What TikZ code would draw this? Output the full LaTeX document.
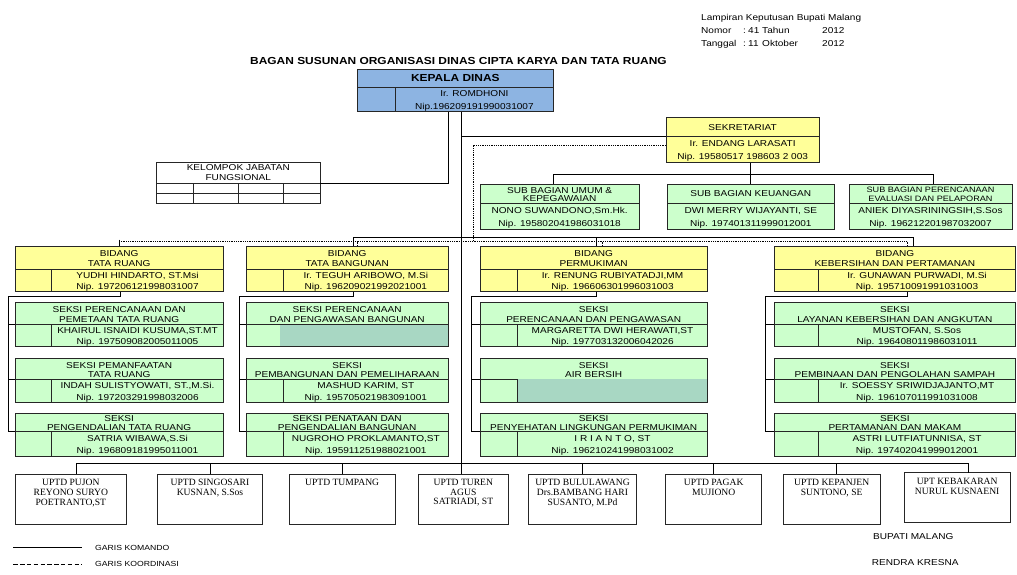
\documentclass[tikz,border=0pt]{standalone}
\usepackage{fontspec}
\setmainfont{Liberation Sans}[FakeStretch=1.17]
\newfontfamily\serifu{Liberation Serif}
\definecolor{kblue}{HTML}{8DB4E2}
\definecolor{byel}{HTML}{FFFF99}
\definecolor{sgreen}{HTML}{CCFFCC}
\definecolor{steal}{HTML}{A8D7C3}
\tikzset{
 obox/.style={draw=black!85, line width=0.7pt, inner sep=0, outer sep=0, anchor=north west},
 ol/.style={draw=black!85, line width=0.7pt},
 txt/.style={inner sep=0, text height=6.1pt, text depth=0pt, font=\fontsize{8.6}{10}\selectfont},
 txts/.style={inner sep=0, text height=5.6pt, text depth=0pt, font=\fontsize{7.8}{9}\selectfont},
 ttl/.style={inner sep=0, text height=7.2pt, text depth=0pt, font=\fontsize{10.2}{12}\selectfont\bfseries},
 cmd/.style={draw=black, line width=0.8pt},
 koor/.style={draw=black, line width=0.7pt, dash pattern=on 0.9pt off 0.9pt},
 utxt/.style={inner sep=0, align=center, anchor=north, font=\fontsize{9.6}{9.6}\selectfont\serifu},
 leg/.style={inner sep=0, text height=5.3pt, text depth=0pt, anchor=west, font=\fontsize{7.4}{9}\selectfont},
 hdr/.style={inner sep=0, text height=6.1pt, text depth=0pt, anchor=west, font=\fontsize{8.6}{10}\selectfont},
}
% name, left, top, right, divider, bottom, inner x (or empty), fill
\newcommand\ubox[8]{%
  \node[obox, fill=#8, minimum width={(#4)-(#2)}, minimum height={(#6)-(#3)}] (#1) at (#2,#3) {};
  \draw[ol] (#2,#5) -- (#4,#5);
  \ifx\relax#7\relax\else\draw[ol] (#7,#5) -- (#7,#6);\fi
  \coordinate (#1-dw) at (#2,#5);
  \pgfmathsetmacro\ya{#3+0.32*(#5-#3)}%
  \pgfmathsetmacro\yb{#3+0.76*(#5-#3)}%
  \pgfmathsetmacro\ym{(#3+#5)/2}%
  \pgfmathsetmacro\yc{#5+0.27*(#6-#5)}%
  \pgfmathsetmacro\yd{#5+0.77*(#6-#5)}%
  \pgfmathsetmacro\xa{(#2+#4)/2}%
  \ifx\relax#7\relax\pgfmathsetmacro\xb{(#2+#4)/2}\else\pgfmathsetmacro\xb{(#7+#4)/2}\fi
}
\newcommand\ttwo[3]{\node[txt] (#1-a) at (\xa,\ya) {#2}; \node[txt] (#1-b) at (\xa,\yb) {#3};}
\newcommand\tone[2]{\node[txt] (#1-a) at (\xa,\ym) {#2};}
\newcommand\ltwo[3]{\node[txt] (#1-c) at (\xb,\yc) {#2}; \node[txt] (#1-d) at (\xb,\yd) {#3};}
\newcommand\uptd[6]{%
  \node[obox, fill=white, minimum width={(#4)-(#2)}, minimum height={(#5)-(#3)}] (#1) at (#2,#3) {};
  \node[utxt] (#1-t) at ({(#2+#4)/2},{#3+5.3}) {#6};}
\begin{document}
\begin{tikzpicture}[x=1pt,y=-1pt]
\fill[white] (0,0) rectangle (1017,574);
\useasboundingbox (0,0) rectangle (1017,574);

% ---------- header ----------
\node[hdr] (h1) at (701,17) {Lampiran Keputusan Bupati Malang};
\node[hdr] (h2) at (701,30) {Nomor};
\node[hdr] (h3a) at (743,30) {:};
\node[hdr] (h3) at (748,30) {41};
\node[hdr] (h4) at (762,30) {Tahun};
\node[hdr] (h5) at (822,30) {2012};
\node[hdr] (h6) at (701,43) {Tanggal};
\node[hdr] (h7a) at (743,43) {:};
\node[hdr] (h7) at (748,43) {11};
\node[hdr] (h8) at (762,43) {Oktober};
\node[hdr] (h9) at (822,43) {2012};
\node[ttl, anchor=west] (title) at (250,61) {BAGAN SUSUNAN ORGANISASI DINAS CIPTA KARYA DAN TATA RUANG};

% ---------- coordinates ----------
\coordinate (kt) at (461,111.7);
\coordinate (ub) at (461,463.3);
\coordinate (bs2) at (353,237);
\coordinate (bs3) at (596,237);
\coordinate (bs4) at (913,237);
\coordinate (bd1) at (119,241.5);
\coordinate (bd2) at (357,241.5);
\coordinate (bd3) at (602,241.5);
\coordinate (bd4) at (907,241.5);
\coordinate (dk) at (473,145);
\coordinate (sbj) at (750,174.2);
\coordinate (sbl) at (553.7,174.2);
\coordinate (sbr) at (933,174.2);
\coordinate (ul) at (76.7,463.3);
\coordinate (ur) at (968.3,463.3);

% ---------- boxes ----------
\ubox{kepala}{357.7}{69}{553}{87.3}{111.7}{395.7}{kblue}
\node[ttl] (kepala-a) at (\xa,\ym) {KEPALA DINAS};
\ltwo{kepala}{Ir. ROMDHONI}{Nip.196209191990031007}

\node[obox, fill=white, minimum width=163.3, minimum height=40.6] (kjf) at (156.7,162.7) {};
\draw[ol] (156.7,183.3) -- (320,183.3);
\draw[ol] (156.7,193.3) -- (320,193.3);
\foreach \x in {193.3,238.3,283.3} \draw[ol] (\x,183.3) -- (\x,203.3);
\node[txt] (kjf-a) at (238.3,167.6) {KELOMPOK JABATAN};
\node[txt] (kjf-b) at (238.3,177.6) {FUNGSIONAL};

\ubox{sekr}{666}{117.7}{819.3}{136.7}{162.7}{}{byel}
\tone{sekr}{SEKRETARIAT}
\ltwo{sekr}{Ir. ENDANG LARASATI}{Nip. 19580517 198603 2 003}

\ubox{sb1}{480}{184}{639.3}{203}{229}{}{sgreen}
\ttwo{sb1}{SUB BAGIAN UMUM \&}{KEPEGAWAIAN}
\ltwo{sb1}{NONO SUWANDONO,Sm.Hk.}{Nip. 195802041986031018}
\ubox{sb2}{667}{184}{834.6}{203}{229}{}{sgreen}
\tone{sb2}{SUB BAGIAN KEUANGAN}
\ltwo{sb2}{DWI MERRY WIJAYANTI, SE}{Nip. 197401311999012001}
\ubox{sb3}{849}{184}{1012}{203}{229}{}{sgreen}
\node[txts] (sb3-a) at (\xa,\ya) {SUB BAGIAN PERENCANAAN};
\node[txts] (sb3-b) at (\xa,\yb) {EVALUASI DAN PELAPORAN};
\ltwo{sb3}{ANIEK DIYASRININGSIH,S.Sos}{Nip. 196212201987032007}

% bidang
\ubox{bid1}{15}{246}{223.3}{269.3}{291.7}{51.7}{byel}
\ttwo{bid1}{BIDANG}{TATA RUANG}
\ltwo{bid1}{YUDHI HINDARTO, ST.Msi}{Nip. 197206121998031007}
\ubox{bid2}{246}{246}{448.3}{269.3}{291.7}{283.3}{byel}
\ttwo{bid2}{BIDANG}{TATA BANGUNAN}
\ltwo{bid2}{Ir. TEGUH ARIBOWO, M.Si}{Nip. 196209021992021001}
\ubox{bid3}{480}{246}{707.3}{269.3}{291.7}{517.7}{byel}
\ttwo{bid3}{BIDANG}{PERMUKIMAN}
\ltwo{bid3}{Ir. RENUNG RUBIYATADJI,MM}{Nip. 196606301996031003}
\ubox{bid4}{774}{246}{1015.7}{269.3}{291.7}{818.3}{byel}
\ttwo{bid4}{BIDANG}{KEBERSIHAN DAN PERTAMANAN}
\ltwo{bid4}{Ir. GUNAWAN PURWADI, M.Si}{Nip. 195710091991031003}

% seksi column 1
\ubox{s11}{15}{302.7}{223.3}{324.3}{346.7}{51.7}{sgreen}
\ttwo{s11}{SEKSI PERENCANAAN DAN}{PEMETAAN TATA RUANG}
\ltwo{s11}{KHAIRUL ISNAIDI KUSUMA,ST.MT}{Nip. 197509082005011005}
\ubox{s12}{15}{358.3}{223.3}{379.3}{402.3}{51.7}{sgreen}
\ttwo{s12}{SEKSI PEMANFAATAN}{TATA RUANG}
\ltwo{s12}{INDAH SULISTYOWATI, ST.,M.Si.}{Nip. 197203291998032006}
\ubox{s13}{15}{413}{223.3}{431.5}{456.5}{51.7}{sgreen}
\ttwo{s13}{SEKSI}{PENGENDALIAN TATA RUANG}
\ltwo{s13}{SATRIA WIBAWA,S.Si}{Nip. 196809181995011001}

% seksi column 2
\ubox{s21}{246}{302.7}{448.3}{324.3}{346.7}{}{sgreen}
\fill[steal] (280.4,324.7) rectangle (447.9,346.3);
\ttwo{s21}{SEKSI PERENCANAAN}{DAN PENGAWASAN BANGUNAN}
\ubox{s22}{246}{358.3}{448.3}{379.3}{402.3}{283.3}{sgreen}
\ttwo{s22}{SEKSI}{PEMBANGUNAN DAN PEMELIHARAAN}
\ltwo{s22}{MASHUD KARIM, ST}{Nip. 195705021983091001}
\ubox{s23}{246}{413}{448.3}{431.5}{456.5}{283.3}{sgreen}
\ttwo{s23}{SEKSI PENATAAN DAN}{PENGENDALIAN BANGUNAN}
\ltwo{s23}{NUGROHO PROKLAMANTO,ST}{Nip. 195911251988021001}

% seksi column 3
\ubox{s31}{480}{302.7}{707.3}{324.3}{346.7}{517.7}{sgreen}
\ttwo{s31}{SEKSI}{PERENCANAAN DAN PENGAWASAN}
\ltwo{s31}{MARGARETTA DWI HERAWATI,ST}{Nip. 197703132006042026}
\ubox{s32}{480}{358.3}{707.3}{379.3}{402.3}{}{sgreen}
\fill[steal] (517.7,378.9) rectangle (706.9,401.9);
\draw[ol] (517.7,379.3) -- (517.7,402.3);
\ttwo{s32}{SEKSI}{AIR BERSIH}
\ubox{s33}{480}{413}{707.3}{431.5}{456.5}{517.7}{sgreen}
\ttwo{s33}{SEKSI}{PENYEHATAN LINGKUNGAN PERMUKIMAN}
\ltwo{s33}{I R I A N T O, ST}{Nip. 196210241998031002}

% seksi column 4
\ubox{s41}{774}{302.7}{1015.7}{324.3}{346.7}{818.3}{sgreen}
\ttwo{s41}{SEKSI}{LAYANAN KEBERSIHAN DAN ANGKUTAN}
\ltwo{s41}{MUSTOFAN, S.Sos}{Nip. 196408011986031011}
\ubox{s42}{774}{358.3}{1015.7}{379.3}{402.3}{818.3}{sgreen}
\ttwo{s42}{SEKSI}{PEMBINAAN DAN PENGOLAHAN SAMPAH}
\ltwo{s42}{Ir. SOESSY SRIWIDJAJANTO,MT}{Nip. 196107011991031008}
\ubox{s43}{774}{413}{1015.7}{431.5}{456.5}{818.3}{sgreen}
\ttwo{s43}{SEKSI}{PERTAMANAN DAN MAKAM}
\ltwo{s43}{ASTRI LUTFIATUNNISA, ST}{Nip. 197402041999012001}

% UPTD
\uptd{u1}{15}{474}{126.7}{524}{UPTD PUJON\\REYONO SURYO\\POETRANTO,ST}
\uptd{u2}{157.3}{474}{262.7}{524}{UPTD SINGOSARI\\KUSNAN, S.Sos}
\uptd{u3}{289.3}{474}{395}{524}{UPTD TUMPANG}
\uptd{u4}{418.3}{474}{508.3}{524}{UPTD TUREN\\AGUS\\SATRIADI, ST}
\uptd{u5}{528.3}{474}{636.7}{524}{UPTD BULULAWANG\\Drs.BAMBANG HARI\\SUSANTO, M.Pd}
\uptd{u6}{665.7}{474}{761.7}{524}{UPTD PAGAK\\MUJIONO}
\uptd{u7}{783.3}{474}{880}{524}{UPTD KEPANJEN\\SUNTONO, SE}
\uptd{u8}{904.3}{472.7}{1010}{522.7}{UPT KEBAKARAN\\NURUL KUSNAENI}

% ---------- command lines ----------
\draw[cmd] ([xshift=-7.35pt]kepala.south) |- (kjf.east);
\draw[cmd] (kt) -- (ub);
\draw[cmd] (kt |- 0,136) -- (sekr.west |- 0,136);
\draw[cmd] (sekr.south -| sbj) -- (sbj);
\draw[cmd] (sb1.north -| sbl) -- (sbl) -- (sbr) -- (sb3.north -| sbr);
\draw[cmd] (sbj) -- (sb2.north -| sbj);
\draw[cmd] (bs2) -- (bs4);
\draw[cmd] (bs2) -- (bs2 |- bid2.north);
\draw[cmd] (bs3) -- (bs3 |- bid3.north);
\draw[cmd] (bs4) -- (bs4 |- bid4.north);
\draw[cmd] (119,239.5) coordinate (bt1) -- (bt1 |- bid1.north);

\coordinate (hk1) at (120,291.7); \coordinate (c1) at (8.3,296.7);
\coordinate (hk2) at (353,291.7); \coordinate (c2) at (239.3,296.7);
\coordinate (hk3) at (596,291.7); \coordinate (c3) at (471.7,296.7);
\coordinate (hk4) at (907,291.7); \coordinate (c4) at (765,296.7);
\draw[cmd] (hk1) |- (c1) -- (c1 |- s13-dw);
\draw[cmd] (hk2) |- (c2) -- (c2 |- s23-dw);
\draw[cmd] (hk3) |- (c3) -- (c3 |- s33-dw);
\draw[cmd] (hk4) |- (c4) -- (c4 |- s43-dw);
\foreach \s in {s11,s12,s13} \draw[cmd] (\s-dw -| c1) -- (\s-dw);
\foreach \s in {s21,s22,s23} \draw[cmd] (\s-dw -| c2) -- (\s-dw);
\foreach \s in {s31,s32,s33} \draw[cmd] (\s-dw -| c3) -- (\s-dw);
\foreach \s in {s41,s42,s43} \draw[cmd] (\s-dw -| c4) -- (\s-dw);

\draw[cmd] (ul) -- (ur);
\draw[cmd] (ul) -- (ul |- u1.north);
\draw[cmd] (ub -| u2.north) -- (u2.north);
\draw[cmd] (ub -| u3.north) -- (u3.north);
\draw[cmd] (ub) -- (ub |- u4.north);
\draw[cmd] (ub -| u5.north) -- (u5.north);
\draw[cmd] (ub -| u6.north) -- (u6.north);
\draw[cmd] (836,463.3) coordinate (uj7) -- (uj7 |- u7.north);
\draw[cmd] (ur) -- (ur |- u8.north);

% ---------- coordination lines ----------
\draw[koor] (sekr.west |- dk) -- (dk) -- (dk |- bd1);
\draw[koor] (bd1) -- (bd4);
\draw[koor] (bd2) -- (bd2 |- bid2.north);
\draw[koor] (bd3) -- (bd3 |- bid3.north);
\draw[koor] (bd4) -- (bd4 |- bid4.north);

% ---------- legend & signature ----------
\coordinate (la) at (13.3,547.7); \coordinate (lb) at (81.7,547.7);
\coordinate (lc) at (13.3,564.3); \coordinate (ld) at (81.7,564.3);
\draw[draw=black, line width=0.6pt] (la) -- (lb);
\draw[draw=black, line width=0.6pt, dash pattern=on 4.5pt off 2.3pt] (lc) -- (ld);
\node[leg] (lt1) at (95,547.7) {GARIS KOMANDO};
\node[leg] (lt2) at (95,564.3) {GARIS KOORDINASI};
\node[hdr] (bup) at (873,536) {BUPATI MALANG};
\node[hdr] (ren) at (871.7,562.3) {RENDRA KRESNA};
\end{tikzpicture}
\end{document}
